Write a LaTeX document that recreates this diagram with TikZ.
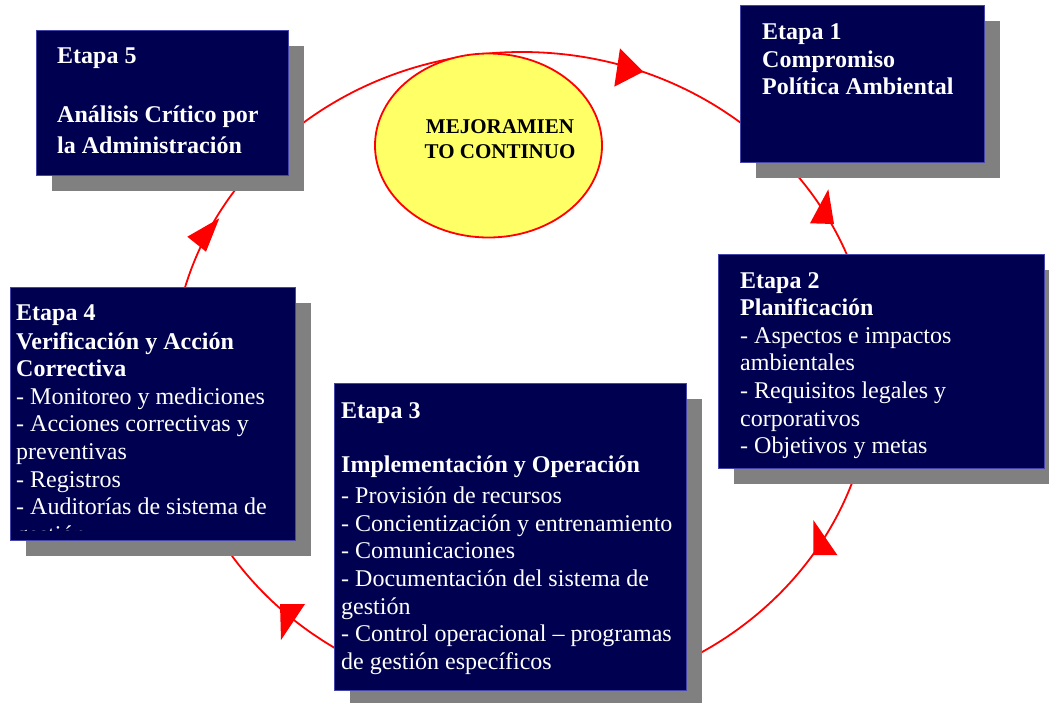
\documentclass[tikz,border=0pt]{standalone}
\usepackage{fontspec}
\setmainfont{Liberation Serif}
\usetikzlibrary{shadows,shapes.geometric}
\definecolor{navy}{RGB}{0,0,80}
\definecolor{navyedge}{RGB}{70,70,170}
\definecolor{shade}{RGB}{128,128,128}
\definecolor{cyclered}{RGB}{255,0,0}
\definecolor{sun}{RGB}{255,255,102}

\begin{document}
\begin{tikzpicture}[x=1pt,y=-1pt,
  stage/.style={draw=navyedge, line width=0.8pt, fill=navy, inner sep=0pt, outer sep=0pt,
    anchor=north west,
    drop shadow={shadow xshift=16pt, shadow yshift=-16pt, fill=shade, opacity=1}},
  txtline/.style={anchor=base west, inner sep=0pt, text=white,
    font=\fontsize{24}{27.5}\selectfont},
  cyc/.style={ellipse, draw=cyclered, line width=1.8pt, inner sep=0pt, outer sep=0pt},
  headfill/.style={fill=cyclered},
  hub/.style={ellipse, draw=cyclered, line width=1.8pt, fill=sun, inner sep=0pt, outer sep=0pt},
  hubtext/.style={anchor=base, inner sep=0pt, font=\fontsize{21}{25}\selectfont\bfseries}]
\useasboundingbox (0,0) rectangle (1049,702);
\clip (0,0) rectangle (1049,702);

% improvement cycle
\node[cyc, minimum width=700pt, minimum height=646pt] (cycle) at (522,375) {};

% arrowheads on the cycle
\fill[headfill] (620,48.3) -- (614.3,86.7) -- (643.3,71.7) -- cycle;
\fill[headfill] (828.3,189.3) -- (810,223.3) -- (834,224) -- cycle;
\fill[headfill] (813.3,520) -- (813.3,555) -- (837.3,555) -- cycle;
\fill[headfill] (280,604) -- (305,604) -- (281,640) -- cycle;
\fill[headfill] (187.3,236.7) -- (219.3,218.3) -- (206,251.7) -- cycle;

% central ellipse
\node[hub, minimum width=227pt, minimum height=184pt] (hub) at (488.5,145.5) {};
\node[hubtext] (hub1) at (500,133) {MEJORAMIEN};
\node[hubtext] (hub2) at (500,158) {TO CONTINUO};

% stage boxes
\node[stage, minimum width=252pt, minimum height=145pt] (e5) at (36,30) {};
\node[stage, minimum width=244pt, minimum height=157pt] (e1) at (740,5) {};
\node[stage, minimum width=326pt, minimum height=214pt] (e2) at (718,254) {};
\node[stage, minimum width=352pt, minimum height=307pt] (e3) at (334,383) {};
\node[stage, minimum width=285pt, minimum height=253pt] (e4) at (10,287) {};

% stage 5
\foreach \yy/\txt [count=\i] in {63/Etapa 5, 122/Análisis Crítico por,
    153/la Administración}
  \node[txtline, font=\fontsize{24}{27.5}\selectfont\bfseries] (s5l\i) at (57,\yy) {\txt};

% stage 1
\foreach \yy/\txt [count=\i] in {39/Etapa 1, 67/Compromiso, 94/Política Ambiental}
  \node[txtline, font=\fontsize{24}{27.5}\selectfont\bfseries] (s1l\i) at (762,\yy) {\txt};

% stage 2
\foreach \yy/\txt [count=\i] in {288/\textbf{Etapa 2}, 315.5/\textbf{Planificación},
    343.5/- Aspectos e impactos, 370.5/ambientales, 398/- Requisitos legales y,
    426/corporativos, 453.5/- Objetivos y metas}
  \node[txtline] (s2l\i) at (740,\yy) {\txt};

% stage 3
\foreach \yy/\txt [count=\i] in {418/\textbf{Etapa 3}, 472/\textbf{Implementación y Operación},
    503/- Provisión de recursos, 531/- Concientización y entrenamiento,
    558.5/- Comunicaciones, 586/- Documentación del sistema de, 614/gestión,
    641.5/- Control operacional – programas, 669/de gestión específicos}
  \node[txtline] (s3l\i) at (341,\yy) {\txt};

% stage 4 (text overflows and is cut at the box)
\begin{scope}
  \clip (10,287) rectangle (295,530.5);
  \foreach \yy/\txt [count=\i] in {320/\textbf{Etapa 4}, 349/\textbf{Verificación y Acción},
      376/\textbf{Correctiva}, 404/- Monitoreo y mediciones,
      431/- Acciones correctivas y, 459/preventivas, 487/- Registros,
      514/- Auditorías de sistema de, 542/gestión}
    \node[txtline] (s4l\i) at (16,\yy) {\txt};
\end{scope}
\end{tikzpicture}
\end{document}
